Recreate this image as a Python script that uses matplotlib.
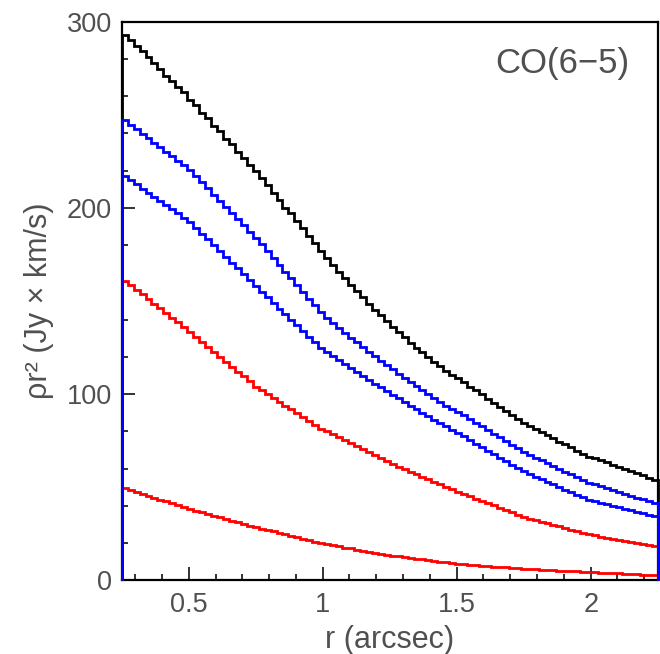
import numpy as np
import matplotlib
matplotlib.use("Agg")
import matplotlib.pyplot as plt
from matplotlib.ticker import MultipleLocator, FixedLocator

# ---------------- data ----------------
r_min, r_max, n_bins = 0.25, 2.25, 90

black_vals = [293, 290, 287, 284, 281, 277.5, 274.5, 271, 268, 265, 262,
              258, 255, 251, 248, 244, 241, 237, 234, 230, 227, 223,
              220, 216, 212, 208, 204, 200, 197, 193, 189, 185, 181, 177,
              173.2, 169.5, 165.8, 162.2, 158.7, 155.3, 151.9, 148.6, 145.4, 142.3, 139.2,
              136.2, 133.3, 130.5, 127.7, 125.0, 122.4, 119.8, 117.4, 115.0, 112.6, 110.4,
              108.5, 106.5, 104, 102, 100, 97.5, 95.5, 93, 91, 89, 86.5,
              84.5, 83, 81.5, 79.5, 78, 76.5, 74.5, 73, 71.5, 69.5, 68, 66.5,
              65.5, 64.5, 63.5, 62, 61, 60, 58.5, 57.5, 56.5, 55, 54]

blue1_vals = [247, 244.6, 242.2, 239.8, 237.4, 235, 232.6, 230.2, 227.8, 225.4, 223,
              220.3, 217.0, 213.7, 210.4, 207.1, 203.8, 200.5, 197.2, 193.9, 190.6, 187.3,
              184, 180.4, 176.7, 173.1, 169.4, 165.8, 162.2, 158.5, 154.9, 151.2, 147.6, 144,
              140.8, 138.1, 135.5, 132.9, 130.3, 127.8, 125.3, 122.8, 120.4, 118.0, 115.6,
              113.3, 111.0, 108.7, 106.5, 104.3, 102.1, 100.0, 97.9, 95.8, 93.8, 91.8,
              90.5, 88.6, 86.6, 84.7, 82.7, 80.8, 78.8, 76.8, 74.9, 72.9, 71.0,
              69, 67.5, 66, 64.5, 63, 61.5, 59.9, 58.4, 56.9, 55.4, 53.9, 52.4,
              51.6, 50.6, 49.6, 48.6, 47.6, 46.5, 45.5, 44.5, 43.5, 42.5, 41.5]

blue2_vals = [217, 214.8, 212.6, 210.3, 208.1, 205.9, 203.7, 201.5, 199.2, 197, 194.8,
              192.4, 189.3, 186.2, 183.1, 180, 176.9, 173.7, 170.6, 167.5, 164.4, 161.3,
              158, 155, 152, 149, 145.9, 142.9, 139.9, 136.9, 133.8, 130.8, 127.8, 124.8,
              122.6, 120.4, 118.2, 116.1, 114.0, 111.9, 109.8, 107.7, 105.7, 103.7, 101.7,
              99.7, 97.7, 95.8, 93.9, 92.0, 90.1, 88.2, 86.4, 84.6, 82.8, 81.0,
              79.2, 77.3, 75.4, 73.5, 71.6, 69.7, 67.8, 65.9, 64.0, 62.1, 60.2,
              58.5, 57.1, 55.7, 54.3, 53.0, 51.6, 50.2, 48.8, 47.4, 46.1, 44.7, 43.3,
              42.6, 41.8, 41.0, 40.2, 39.4, 38.6, 37.8, 37.0, 36.2, 35.4, 34.6]

red1_vals = [161, 158.5, 156, 153.5, 151, 148.6, 146.1, 143.6, 141.1, 138.6, 136.1,
             133.5, 130.8, 128.2, 125.5, 122.8, 120.2, 117.5, 114.8, 112.1, 109.5, 106.8,
             104, 102, 99.9, 97.9, 95.8, 93.8, 91.8, 89.7, 87.7, 85.6, 83.6, 81.5,
             80.2, 78.6, 77.0, 75.4, 73.8, 72.2, 70.6, 69.0, 67.4, 65.8, 64.2,
             62.3, 61.0, 59.7, 58.3, 57.0, 55.7, 54.3, 53.0, 51.7, 50.3, 49.0,
             47.7, 46.5, 45.2, 44.0, 42.7, 41.5, 40.3, 39.0, 37.8, 36.5, 35.3,
             34, 33.2, 32.3, 31.5, 30.6, 29.8, 29.0, 28.1, 27.3, 26.4, 25.6, 24.8,
             24.2, 23.6, 23.0, 22.5, 21.9, 21.3, 20.7, 20.1, 19.6, 19.0, 18.4]

red2_vals = [49.5, 48.5, 47.5, 46.5, 45.5, 44.4, 43.4, 42.4, 41.4, 40.4, 39.4,
             38.4, 37.5, 36.6, 35.7, 34.8, 33.9, 33.0, 32.1, 31.3, 30.4, 29.5,
             28.6, 27.8, 27.0, 26.3, 25.5, 24.7, 23.9, 23.1, 22.4, 21.6, 20.8, 20.0,
             19.4, 18.8, 18.3, 17.7, 17.2, 16.6, 16.0, 15.5, 14.9, 14.4, 13.8,
             13.3, 12.9, 12.5, 12.1, 11.7, 11.3, 10.9, 10.5, 10.1, 9.7, 9.3,
             8.9, 8.7, 8.4, 8.2, 8.0, 7.7, 7.5, 7.2, 7.0, 6.8, 6.5,
             6.3, 6.1, 6.0, 5.8, 5.7, 5.5, 5.3, 5.2, 5.0, 4.9, 4.7, 4.5,
             4.4, 4.2, 4.1, 3.9, 3.8, 3.6, 3.5, 3.3, 3.2, 3.0, 2.9]

x_ticks = [0.5, 1.0, 1.5, 2.0]
x_tick_labels = ["0.5", "1", "1.5", "2"]
y_ticks = [0, 100, 200, 300]
y_tick_labels = ["0", "100", "200", "300"]
x_label = "r (arcsec)"
y_label = "\u03c1r\u00b2 (Jy \u00d7 km/s)"
annotation = "CO(6\u22125)"

# ---------------- figure ----------------
plt.rcParams['font.family'] = ['Liberation Sans', 'DejaVu Sans']
fig = plt.figure(figsize=(6.6, 6.54), dpi=100)
ax = fig.add_axes([0.1844, 0.1124, 0.8121, 0.8547])

edges = np.linspace(r_min, r_max, n_bins + 1)
series = [(black_vals, "#000000"), (red1_vals, "#ff0000"), (red2_vals, "#ff0000"),
          (blue1_vals, "#0000ff"), (blue2_vals, "#0000ff")]
for vals, col in series:
    ax.stairs(vals, edges, baseline=0, color=col, linewidth=2.0,
              zorder=3, clip_on=False)

ax.set_xlim(r_min, r_max)
ax.set_ylim(0, 300)

ax.xaxis.set_major_locator(FixedLocator(x_ticks))
ax.set_xticklabels(x_tick_labels)
ax.xaxis.set_minor_locator(MultipleLocator(0.1))
ax.yaxis.set_major_locator(FixedLocator(y_ticks))
ax.set_yticklabels(y_tick_labels)
ax.yaxis.set_minor_locator(MultipleLocator(20))

txt_col = '#505050'
ax.tick_params(which='both', direction='in', top=False, right=False,
               colors='#222222', labelcolor=txt_col, labelsize=19.5, width=1.3)
ax.tick_params(which='major', length=9.5)
ax.tick_params(which='minor', length=4.5)
ax.tick_params(axis='x', which='major', pad=8)
ax.tick_params(axis='y', which='major', pad=7)

for s in ax.spines.values():
    s.set_linewidth(1.6)
    s.set_color('#000000')

ax.set_xlabel(x_label, fontsize=22, color=txt_col, labelpad=5)
ax.set_ylabel(y_label, fontsize=22, color=txt_col, labelpad=9)

ax.text(0.947, 0.925, annotation, transform=ax.transAxes, ha='right', va='center',
        fontsize=25, color=txt_col)

fig.savefig("out.png", dpi=100)
